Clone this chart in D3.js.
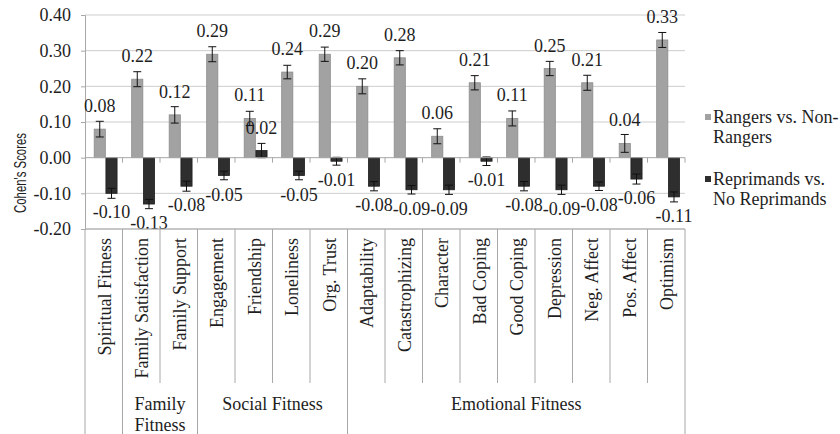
<!DOCTYPE html>
<html><head><meta charset="utf-8">
<script src="https://cdn.jsdelivr.net/npm/d3@7"></script>
<style>body{margin:0;background:#fff}svg{display:block}</style>
</head><body>
<script>
const categories = ["Spiritual Fitness","Family Satisfaction","Family Support","Engagement","Friendship","Loneliness","Org. Trust","Adaptability","Catastrophizing","Character","Bad Coping","Good Coping","Depression","Neg. Affect","Pos. Affect","Optimism"];
const groups = [
  {name: [""], first: "Spiritual Fitness", last: "Spiritual Fitness"},
  {name: ["Family","Fitness"], first: "Family Satisfaction", last: "Family Support"},
  {name: ["Social Fitness"], first: "Engagement", last: "Org. Trust"},
  {name: ["Emotional Fitness"], first: "Adaptability", last: "Optimism"}
];
const seriesNames = ["Rangers vs. Non-Rangers","Reprimands vs. No Reprimands"];
const legendLines = [["Rangers vs. Non-","Rangers"],["Reprimands vs.","No Reprimands"]];
const rangers = [0.08,0.22,0.12,0.29,0.11,0.24,0.29,0.20,0.28,0.06,0.21,0.11,0.25,0.21,0.04,0.33];
const reprimands = [-0.10,-0.13,-0.08,-0.05,0.02,-0.05,-0.01,-0.08,-0.09,-0.09,-0.01,-0.08,-0.09,-0.08,-0.06,-0.11];
const rangersErr = [0.022,0.021,0.023,0.021,0.020,0.019,0.020,0.021,0.020,0.021,0.020,0.021,0.020,0.021,0.025,0.021];
const reprimandsErr = [0.014,0.013,0.014,0.012,0.020,0.012,0.011,0.013,0.012,0.013,0.012,0.013,0.013,0.012,0.014,0.014];
const yTicks = [0.40,0.30,0.20,0.10,0.00,-0.10,-0.20];
const yTitle = "Cohen's Scores";
const colors = ["#a2a2a2","#2e2e2e"];

const W = 840, H = 434;
const svg = d3.select("body").append("svg").attr("width", W).attr("height", H);
const serif = "'Liberation Serif','Times New Roman',serif";
const fmt = v => d3.format(".2f")(v).replace("\u2212", "-");

const y = d3.scaleLinear().domain([-0.20, 0.40]).range([229, 15]);
const x0 = d3.scaleBand().domain(categories).range([85, 685]).padding(0);
const bw = x0.bandwidth();
const x1 = d3.scaleBand().domain(seriesNames).range([bw*0.245, bw*0.855]).paddingInner(0.05);

// gridlines
svg.append("g").selectAll("line").data(yTicks.filter(t => t !== 0)).join("line")
  .attr("x1", 85).attr("x2", 685).attr("y1", d => y(d)).attr("y2", d => y(d))
  .attr("stroke", "#cdcdcd").attr("stroke-width", 1);

// y axis
const yAxis = d3.axisLeft(y).tickValues(yTicks).tickFormat(fmt).tickSize(4).tickPadding(10);
const ya = svg.append("g").attr("transform", "translate(85,0)").call(yAxis);
ya.select(".domain").attr("stroke", "#a8a8a8");
ya.selectAll(".tick line").attr("stroke", "#a8a8a8");
ya.selectAll(".tick text").attr("font-family", serif).attr("font-size", 18).attr("fill", "#1e1e1e");

// y title
svg.append("text").attr("transform", `translate(20,173) rotate(-90)`)
  .attr("text-anchor", "middle").attr("dominant-baseline", "central")
  .attr("font-family", "'Liberation Sans',Arial,sans-serif").attr("font-size", 17).attr("fill", "#1e1e1e")
  .attr("textLength", 80).attr("lengthAdjust", "spacingAndGlyphs")
  .text(yTitle);

// data
const data = categories.map((c, i) => ({c, vals: [
  {s: seriesNames[0], v: rangers[i], e: rangersErr[i], k: 0},
  {s: seriesNames[1], v: reprimands[i], e: reprimandsErr[i], k: 1}
]}));

const cg = svg.append("g").selectAll("g").data(data).join("g")
  .attr("transform", d => `translate(${x0(d.c)},0)`);

cg.selectAll("rect").data(d => d.vals).join("rect")
  .attr("x", d => x1(d.s)).attr("width", x1.bandwidth())
  .attr("y", d => y(Math.max(0, d.v))).attr("height", d => Math.abs(y(d.v) - y(0)))
  .attr("fill", d => colors[d.k]).attr("stroke", d => d.k === 0 ? "#8c8c8c" : "#1e1e1e").attr("stroke-width", 0.8);

// zero axis line
svg.append("line").attr("x1", 85).attr("x2", 685).attr("y1", y(0)).attr("y2", y(0))
  .attr("stroke", "#a8a8a8").attr("stroke-width", 1);
// small ticks on zero line
svg.append("g").selectAll("line").data(categories.slice(1).concat(["__end"])).join("line")
  .attr("x1", d => d === "__end" ? 685 : x0(d)).attr("x2", d => d === "__end" ? 685 : x0(d))
  .attr("y1", y(0)).attr("y2", y(0) + 5).attr("stroke", "#a8a8a8");

// error bars
const eb = cg.selectAll("g.err").data(d => d.vals).join("g").attr("class", "err");
eb.append("line").attr("x1", d => x1(d.s) + x1.bandwidth()/2).attr("x2", d => x1(d.s) + x1.bandwidth()/2)
  .attr("y1", d => y(d.v + d.e)).attr("y2", d => y(d.v - d.e)).attr("stroke", "#111").attr("stroke-width", 1);
eb.selectAll("line.cap").data(d => [d.v + d.e, d.v - d.e].map(v => ({s: d.s, v}))).join("line").attr("class", "cap")
  .attr("x1", d => x1(d.s) + x1.bandwidth()/2 - 4).attr("x2", d => x1(d.s) + x1.bandwidth()/2 + 4)
  .attr("y1", d => y(d.v)).attr("y2", d => y(d.v)).attr("stroke", "#111").attr("stroke-width", 1);

// value labels
cg.selectAll("text.val").data(d => d.vals).join("text").attr("class", "val")
  .attr("x", d => x1(d.s) + x1.bandwidth()/2)
  .attr("y", d => d.v >= 0 ? y(d.v) - 23 : y(d.v) + 19)
  .attr("text-anchor", "middle").attr("dominant-baseline", "central")
  .attr("font-family", serif).attr("font-size", 18).attr("fill", "#1e1e1e")
  .text(d => fmt(d.v));

// bottom axis line at -0.20
svg.append("line").attr("x1", 85).attr("x2", 685).attr("y1", y(-0.20)).attr("y2", y(-0.20)).attr("stroke", "#a8a8a8");

// category separators
const groupEdges = new Set();
groups.forEach(g => { groupEdges.add(x0(g.first)); groupEdges.add(x0(g.last) + bw); });
const edges = categories.map(c => x0(c)).concat([685]);
svg.append("g").selectAll("line").data(edges).join("line")
  .attr("x1", d => d).attr("x2", d => d)
  .attr("y1", y(-0.20)).attr("y2", d => groupEdges.has(d) ? H : 383)
  .attr("stroke", "#a8a8a8").attr("stroke-width", 1);

// category labels
svg.append("g").selectAll("text").data(categories).join("text")
  .attr("transform", d => `translate(${x0(d) + bw/2 + 1},238) rotate(-90)`)
  .attr("text-anchor", "end").attr("dominant-baseline", "central")
  .attr("font-family", serif).attr("font-size", 18).attr("fill", "#1e1e1e")
  .text(d => d);

// group labels
const gl = svg.append("g").selectAll("text").data(groups).join("text")
  .attr("text-anchor", "middle").attr("font-family", serif).attr("font-size", 18).attr("fill", "#1e1e1e")
  .attr("x", d => (x0(d.first) + x0(d.last) + bw) / 2);
gl.selectAll("tspan").data(d => d.name.map((t, i) => ({t, i, x: (x0(d.first) + x0(d.last) + bw) / 2}))).join("tspan")
  .attr("x", d => d.x).attr("y", d => 410 + d.i * 21).text(d => d.t);

// legend
const lg = svg.append("g").selectAll("g").data(legendLines).join("g")
  .attr("transform", (d, i) => `translate(705,${117 + i * 62})`);
lg.append("rect").attr("x", 0).attr("y", -3).attr("width", 6).attr("height", 6)
  .attr("fill", (d, i) => colors[i]);
lg.append("text").attr("font-family", serif).attr("font-size", 18).attr("fill", "#1e1e1e")
  .selectAll("tspan").data(d => d).join("tspan")
  .attr("x", 8).attr("y", (d, i) => 6 + i * 20).text(d => d);
</script>
</body></html>
